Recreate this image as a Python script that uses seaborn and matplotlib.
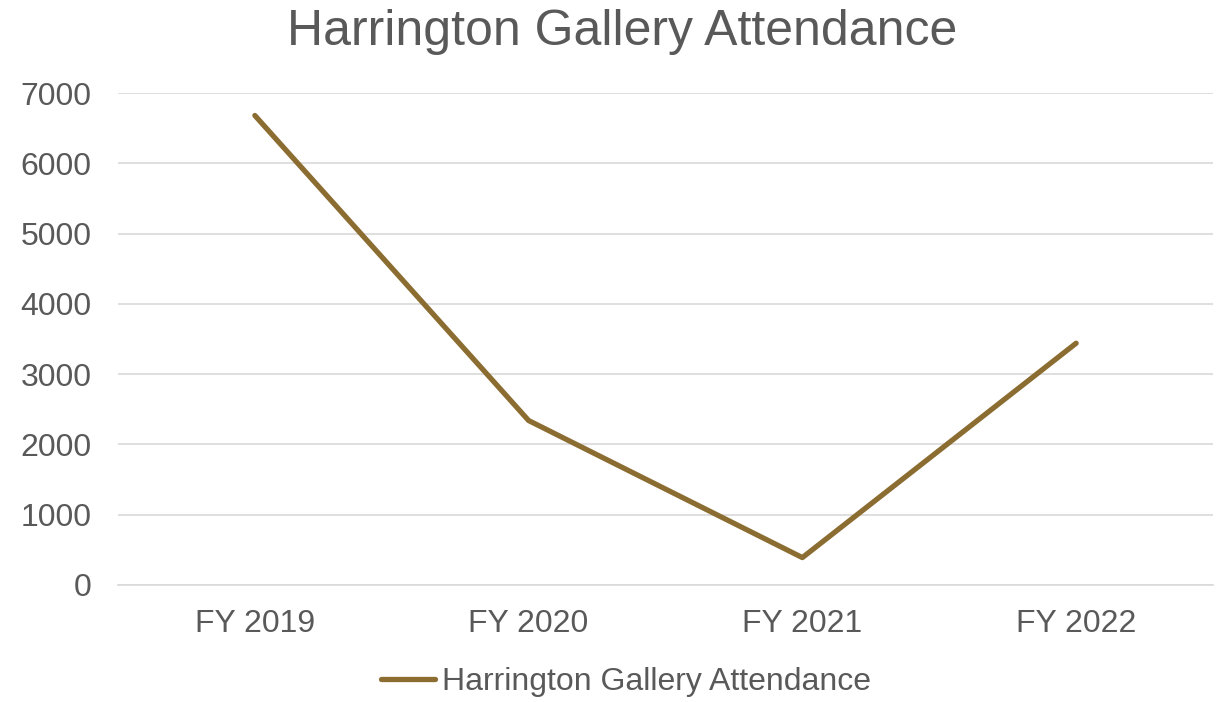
import pandas as pd
import matplotlib
matplotlib.use("Agg")
import matplotlib.pyplot as plt
import seaborn as sns

years = ["FY 2019", "FY 2020", "FY 2021", "FY 2022"]
attendance = [6680, 2340, 390, 3440]
series_name = "Harrington Gallery Attendance"

df = pd.DataFrame({"Year": years, "Attendance": attendance})

sns.set_theme(style="white")
plt.rcParams["font.family"] = ["Liberation Sans", "DejaVu Sans"]

grey = "#595959"
line_color = "#8C6D31"

fig = plt.figure(figsize=(12.25, 7.02), dpi=100)
ax = fig.add_axes([118 / 1225, 1 - 585 / 702, (1213 - 118) / 1225, (585 - 93) / 702])

sns.lineplot(data=df, x="Year", y="Attendance", ax=ax, color=line_color,
             linewidth=3.8, label=series_name, sort=False,
             solid_capstyle="round")

ax.set_xlim(-0.5, 3.5)
ax.set_ylim(0, 7000)
ax.set_yticks(range(0, 7001, 1000))
ax.grid(axis="y", color="#D9D9D9", linewidth=1.2)
ax.set_axisbelow(True)
for s in ["top", "right", "left"]:
    ax.spines[s].set_visible(False)
ax.spines["bottom"].set_color("#D9D9D9")
ax.spines["bottom"].set_linewidth(1.2)
ax.tick_params(axis="both", length=0, labelsize=23, colors=grey)
ax.tick_params(axis="x", pad=17)
ax.tick_params(axis="y", pad=19)
ax.set_xlabel("")
ax.set_ylabel("")

fig.suptitle(series_name, x=622 / 1225, y=1 - 32 / 702, va="center",
             fontsize=36, color=grey)

leg = ax.legend(loc="center", bbox_to_anchor=(626 / 1225, 1 - 682 / 702),
                bbox_transform=fig.transFigure, frameon=False, fontsize=23,
                handlelength=1.7, handletextpad=0.2)
for t in leg.get_texts():
    t.set_color(grey)

fig.savefig("out.png", dpi=100)
